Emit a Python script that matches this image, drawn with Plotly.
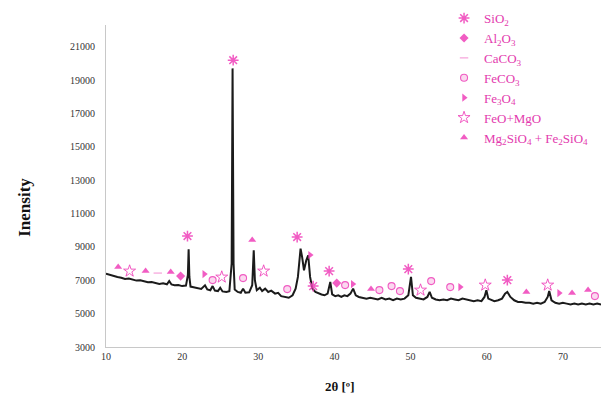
import plotly.graph_objects as go

# ---- XRD pattern (2θ, intensity) ----
two_theta = [10.0, 10.5, 11.0, 11.5, 12.0, 12.5, 13.0, 13.5, 14.0, 14.5, 15.0, 15.5, 16.0, 16.5,
             17.0, 17.5, 18.0, 18.3, 18.6, 19.0, 19.5, 20.0, 20.5, 20.75, 20.85, 20.95, 21.1, 21.5,
             22.0, 22.5, 23.0, 23.3, 23.7, 24.0, 24.3, 24.7, 25.0, 25.3, 25.8, 26.2, 26.5, 26.62,
             26.75, 26.9, 27.3, 27.7, 28.0, 28.3, 28.8, 29.2, 29.4, 29.55, 29.8, 30.2, 30.5, 30.9,
             31.3, 31.7, 32.2, 32.6, 33.0, 33.5, 34.0, 34.5, 34.9, 35.2, 35.55, 35.75, 36.0, 36.3,
             36.55, 36.8, 37.1, 37.5, 37.9, 38.3, 38.7, 39.1, 39.45, 39.7, 40.1, 40.5, 40.9, 41.3,
             41.7, 42.1, 42.45, 42.8, 43.2, 43.7, 44.2, 44.7, 45.2, 45.7, 46.2, 46.7, 47.2, 47.7,
             48.2, 48.7, 49.2, 49.7, 50.05, 50.3, 50.7, 51.2, 51.7, 52.2, 52.5, 52.8, 53.3, 53.8,
             54.3, 54.8, 55.3, 55.8, 56.3, 56.8, 57.3, 57.8, 58.3, 58.8, 59.3, 59.7, 59.95, 60.2,
             60.6, 61.0, 61.5, 62.0, 62.4, 62.7, 63.1, 63.6, 64.1, 64.6, 65.1, 65.6, 66.1, 66.6,
             67.1, 67.6, 68.0, 68.2, 68.5, 69.0, 69.5, 70.0, 70.5, 71.0, 71.5, 72.0, 72.5, 73.0,
             73.5, 74.0, 74.5, 75.0]
intensity = [7400, 7320, 7250, 7200, 7150, 7080, 7100, 7020, 6980, 7000, 6950, 6880, 6900, 6850,
             6780, 6820, 6760, 6950, 6750, 6700, 6720, 6650, 6680, 7300, 8850, 7200, 6620, 6580,
             6520, 6480, 6700, 6450, 6400, 6650, 6380, 6350, 6550, 6330, 6300, 6350, 8000, 19700,
             8000, 6450, 6300, 6250, 6500, 6250, 6280, 6700, 8800, 7000, 6400, 6550, 6350, 6500,
             6300, 6380, 6200, 6250, 6050, 6000, 5950, 6100, 6500, 7200, 8900, 8400, 7600, 8200,
             8500, 7200, 6500, 6300, 6200, 6150, 6100, 6200, 6900, 6150, 6050, 6100, 6000, 6100,
             6050, 6200, 6500, 6100, 6000, 5950, 5900, 5950, 5900, 5850, 5950, 5850, 5900, 5800,
             5900, 5850, 5900, 6100, 7200, 6100, 5950, 5900, 5850, 6000, 6300, 5950, 5850, 5800,
             5850, 5800, 5900, 5850, 5800, 5900, 5850, 5800, 5750, 5800, 5750, 6000, 6400, 5900,
             5800, 5750, 5800, 5900, 6200, 6300, 6000, 5800, 5700, 5700, 5650, 5650, 5600, 5650,
             5600, 5700, 6000, 6350, 5800, 5650, 5600, 5650, 5600, 5550, 5600, 5550, 5600, 5550,
             5600, 5550, 5600, 5550]

# ---- phase markers ----
sio2_x = [20.7, 26.7, 35.1, 37.2, 39.3, 49.7, 62.7]
sio2_y = [9650, 20190, 9590, 6650, 7550, 7670, 7010]
al2o3_x = [19.8, 40.3]
al2o3_y = [7250, 6830]
caco3_x = [16.8]
caco3_y = [7430]
feco3_x = [24.0, 28.0, 33.8, 41.4, 45.9, 47.5, 48.6, 52.7, 55.2, 74.2]
feco3_y = [7010, 7130, 6470, 6710, 6410, 6650, 6350, 6950, 6590, 6050]
fe3o4_x = [22.9, 36.8, 42.4, 56.5, 69.5]
fe3o4_y = [7370, 8510, 6770, 6590, 6230]
feomgo_x = [13.1, 25.2, 30.7, 51.3, 59.8, 68.0]
feomgo_y = [7550, 7190, 7550, 6410, 6710, 6710]
olivine_x = [11.6, 15.2, 18.5, 29.2, 44.8, 65.2, 71.2, 73.3]
olivine_y = [7790, 7550, 7490, 9410, 6470, 6290, 6230, 6410]

PINK = "#EE3FB8"
LIGHT = "#F7A6DC"
TXT = "#E33AAE"

fig = go.Figure()
fig.add_trace(go.Scatter(x=two_theta, y=intensity, mode="lines",
                         line=dict(color="#1b1b1b", width=2), showlegend=False))

def add_markers(x, y, name, symbol, color, size=8, line_w=1.4, line_c=None):
    fig.add_trace(go.Scatter(
        x=x, y=y, mode="markers", name=name,
        marker=dict(symbol=symbol, size=size, color=color, opacity=0.85,
                    line=dict(width=line_w, color=line_c or color))))

add_markers(sio2_x, sio2_y, "SiO<sub>2</sub>", "asterisk-open", PINK, size=9, line_w=1.5)
add_markers(al2o3_x, al2o3_y, "Al<sub>2</sub>O<sub>3</sub>", "diamond", PINK, size=7, line_w=0)
add_markers(caco3_x, caco3_y, "CaCO<sub>3</sub>", "line-ew-open", LIGHT, size=6, line_w=1.5)
add_markers(feco3_x, feco3_y, "FeCO<sub>3</sub>", "circle", "rgba(247,166,220,0.5)", size=7, line_w=1.1, line_c=PINK)
add_markers(fe3o4_x, fe3o4_y, "Fe<sub>3</sub>O<sub>4</sub>", "triangle-right", PINK, size=7, line_w=0)
add_markers(feomgo_x, feomgo_y, "FeO+MgO", "star-open", PINK, size=9, line_w=1.0)
add_markers(olivine_x, olivine_y, "Mg<sub>2</sub>SiO<sub>4</sub> + Fe<sub>2</sub>SiO<sub>4</sub>",
            "triangle-up", PINK, size=7, line_w=0)

tick_font = dict(family="Liberation Serif", size=10, color="#333333")
fig.update_layout(
    width=609, height=396,
    margin=dict(l=98, r=16, t=17, b=57, autoexpand=False),
    paper_bgcolor="white", plot_bgcolor="white",
    showlegend=True,
    legend=dict(xref="container", yref="paper", x=0.716, y=1.068,
                xanchor="left", yanchor="top",
                bgcolor="rgba(255,255,255,0)", borderwidth=0,
                font=dict(family="Liberation Serif", size=13, color=TXT),
                itemsizing="trace", tracegroupgap=0, itemwidth=30),
    xaxis=dict(range=[10, 75], tick0=10, dtick=10, showgrid=False, zeroline=False,
               showline=True, linecolor="#c8c8c8", linewidth=1, ticks="",
               tickfont=tick_font, tickformat="d"),
    yaxis=dict(range=[3000, 22300], tick0=3000, dtick=2000, showgrid=False, zeroline=False,
               showline=True, linecolor="#c8c8c8", linewidth=1, ticks="",
               tickfont=tick_font, tickformat="d", ticklabelstandoff=8),
    annotations=[
        dict(text="<b>Inensity</b>", textangle=-90, xref="paper", yref="paper",
             x=-0.164, y=0.435, showarrow=False, xanchor="center", yanchor="middle",
             font=dict(family="Liberation Serif", size=17, color="#111111")),
        dict(text="<b>2θ [º]</b>", xref="paper", yref="paper",
             x=0.473, y=-0.124, showarrow=False, xanchor="center", yanchor="middle",
             font=dict(family="Liberation Serif", size=13, color="#111111")),
    ],
)

fig.write_html("out.html")
